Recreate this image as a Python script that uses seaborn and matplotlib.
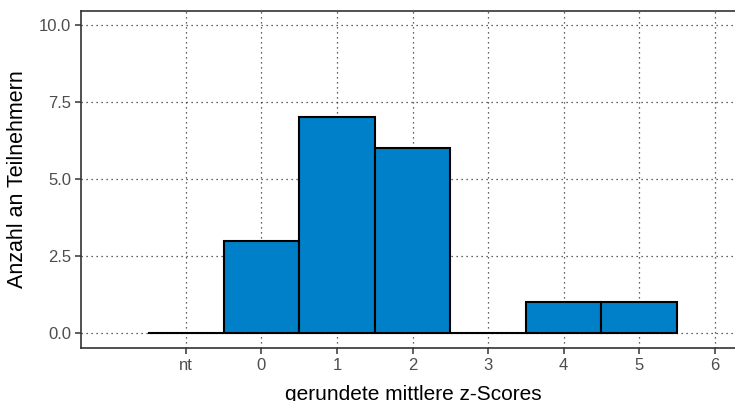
import matplotlib
matplotlib.use("Agg")
import matplotlib.pyplot as plt
import seaborn as sns
import pandas as pd
import numpy as np

categories = ["nt", "0", "1", "2", "3", "4", "5", "6"]
counts = [0, 3, 7, 6, 0, 1, 1, np.nan]
yticks = [0.0, 2.5, 5.0, 7.5, 10.0]
ytick_labels = ["0.0", "2.5", "5.0", "7.5", "10.0"]

sns.set_theme(style="white")
plt.rcParams["font.family"] = ["Liberation Sans", "DejaVu Sans"]

df = pd.DataFrame({"cat": categories, "n": counts})
df = df.dropna()

fig = plt.figure(figsize=(7.35, 4.01), dpi=100)
W, H = 735, 401
left_px, right_px, top_px, bottom_px = 81, 745, 11, 348
ax = fig.add_axes([left_px / W, (H - bottom_px) / H,
                   (right_px - left_px) / W, (bottom_px - top_px) / H])

sns.barplot(data=df, x="cat", y="n", order=categories, color="#0080C8",
            saturation=1, width=1.0, edgecolor="black", linewidth=1.5, ax=ax,
            zorder=3)

ax.set_xlim(-1.389, 7.40)
ax.set_ylim(-0.487, 10.455)
ax.set_yticks(yticks)
ax.set_yticklabels(ytick_labels)

ax.grid(True, linestyle=(0, (1, 3)), color="#333333", linewidth=0.9, zorder=0)
ax.set_axisbelow(True)

for s in ["left", "top", "bottom", "right"]:
    ax.spines[s].set_visible(True)
    ax.spines[s].set_color("#333333")
    ax.spines[s].set_linewidth(1.2)

ax.tick_params(axis="both", which="major", direction="out", length=4, width=1.1,
               color="#333333", labelcolor="#4D4D4D", labelsize=12, pad=3,
               bottom=True, left=True)

ax.set_xlabel("gerundete mittlere z-Scores", fontsize=15, color="black", labelpad=9)
ax.set_ylabel("Anzahl an Teilnehmern", fontsize=15.5, color="black", labelpad=8)

fig.savefig("out.png", dpi=100)
